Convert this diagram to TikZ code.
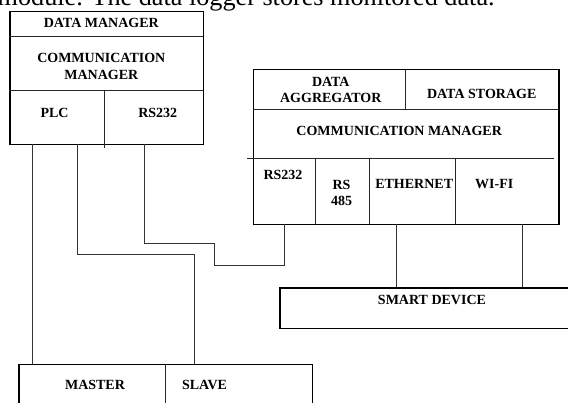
\documentclass[tikz,border=0pt]{standalone}
\usepackage{fontspec}
\setmainfont{Liberation Serif}
\tikzset{
  unit/.style={draw, line width=1.2pt, inner sep=0pt, anchor=north west},
  cell/.style={line width=0.8pt, draw=black!85},
  wire/.style={line width=0.8pt, draw=black!80},
  tag/.style={font=\bfseries\fontsize{14}{16.5}\selectfont, align=center, inner sep=0pt},
}
\begin{document}
\begin{tikzpicture}[x=1pt,y=-1pt]
\useasboundingbox (0,0) rectangle (568,403);
\clip (0,0) rectangle (568,403);

% running text above the figure
\node[anchor=base west, inner sep=0pt, font=\fontsize{26.2}{26}\selectfont] (body) at (-2.5,5.6) {module. The data logger stores monitored data.};

% outer boxes
\node[unit, minimum width=193.7pt, minimum height=133.6pt] (logger) at (9.3,10.7) {};
\node[unit, minimum width=305.6pt, minimum height=155.3pt] (hub) at (252.7,69) {};
\node[unit, minimum width=300pt, minimum height=40.8pt] (smart) at (279.3,287.5) {};
\node[unit, minimum width=293.4pt, minimum height=60pt] (bus) at (18.3,364) {};

% compartments
\draw[cell] (9.3,36.7) -- (203,36.7);
\draw[cell] (9.3,90.7) -- (203,90.7);
\draw[cell] (104.3,90.7) -- (104.3,148.3);
\draw[cell] (405.7,69) -- (405.7,109);
\draw[cell] (252.7,109) -- (558.3,109);
\draw[cell] (247,158.3) -- (554,158.3);
\foreach \x in {315.7,369.3,455}
  \draw[cell] (\x,158.3) -- (\x,224.3);
\draw[cell] (165,364) -- (165,403);

% labels
\node[tag] (dmgr) at (101.3,22.7) {DATA MANAGER};
\node[tag] (lcomm) at (101.3,66.5) {COMMUNICATION\\MANAGER};
\node[tag] (plc) at (54.5,112.8) {PLC};
\node[tag] (lrs) at (157.8,112.8) {RS232};
\node[tag] (aggr) at (330.8,90) {DATA\\AGGREGATOR};
\node[tag] (store) at (481.7,94.3) {DATA STORAGE};
\node[tag] (rcomm) at (399.2,130.8) {COMMUNICATION MANAGER};
\node[tag] (rrs) at (283,175) {RS232};
\node[tag] (rs485) at (341.5,193) {RS\\485};
\node[tag] (eth) at (414.2,184.3) {ETHERNET};
\node[tag] (wifi) at (494.2,184.3) {WI-FI};
\node[tag] (sdev) at (432,300.2) {SMART DEVICE};
\node[tag] (master) at (95,385.3) {MASTER};
\node[tag] (slave) at (204.5,385.3) {SLAVE};

% wiring
\coordinate (plc port) at (32.3,144.3);
\coordinate (rsa port) at (77.3,144.3);
\coordinate (rsb port) at (144.5,144.3);
\coordinate (slave port) at (194.2,364);
\coordinate (hub rs) at (284.5,224.3);
\coordinate (eth port) at (396.7,224.3);
\coordinate (wifi port) at (522.7,224.3);
\draw[wire] (plc port) -- (plc port |- bus.north);
\draw[wire] (rsa port) -- ++(0,110) -| (slave port);
\draw[wire] (rsb port) -- ++(0,98.7) -| ++(70,22.3) -| (hub rs);
\draw[wire] (eth port) -- (eth port |- smart.north);
\draw[wire] (wifi port) -- (wifi port |- smart.north);
\end{tikzpicture}
\end{document}
